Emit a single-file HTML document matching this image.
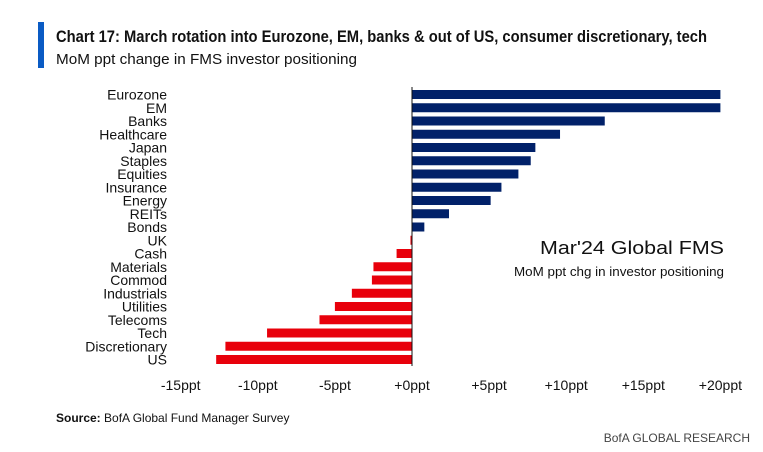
<!DOCTYPE html>
<html><head><meta charset="utf-8"><style>
html,body{margin:0;padding:0;background:#fff;}
svg{display:block;font-family:"Liberation Sans",sans-serif;}
</style></head><body>
<svg id="chart" width="763" height="452" viewBox="0 0 763 452">
<rect x="38" y="22" width="6" height="46" fill="#0a5bc4"/>
<text x="56" y="42" font-size="17" font-weight="bold" fill="#111" textLength="651" lengthAdjust="spacingAndGlyphs">Chart 17: March rotation into Eurozone, EM, banks &amp; out of US, consumer discretionary, tech</text>
<text x="56" y="64" font-size="15" fill="#111" textLength="301" lengthAdjust="spacingAndGlyphs">MoM ppt change in FMS investor positioning</text>
<g id="plot"></g>
<text x="724" y="254" font-size="18" fill="#111" text-anchor="end" textLength="184" lengthAdjust="spacingAndGlyphs">Mar'24 Global FMS</text>
<text x="724" y="276" font-size="13" fill="#111" text-anchor="end" textLength="210" lengthAdjust="spacingAndGlyphs">MoM ppt chg in investor positioning</text>
<text x="56" y="422" font-size="12" fill="#111"><tspan font-weight="bold">Source:</tspan> BofA Global Fund Manager Survey</text>
<text x="750" y="442" font-size="12" fill="#444" text-anchor="end">BofA GLOBAL RESEARCH</text>
</svg>
<script>
const categories=["Eurozone","EM","Banks","Healthcare","Japan","Staples","Equities","Insurance","Energy","REITs","Bonds","UK","Cash","Materials","Commod","Industrials","Utilities","Telecoms","Tech","Discretionary","US"];
const values=[20,20,12.5,9.6,8,7.7,6.9,5.8,5.1,2.4,0.8,-0.1,-1,-2.5,-2.6,-3.9,-5,-6,-9.4,-12.1,-12.7];
const ticks=[-15,-10,-5,0,5,10,15,20];
const tickLabels=["-15ppt","-10ppt","-5ppt","+0ppt","+5ppt","+10ppt","+15ppt","+20ppt"];
const NS="http://www.w3.org/2000/svg";
const g=document.getElementById('plot');
const x=v=>412+v*15.42;
const y=i=>94.5+i*13.25;
function mk(t,a){const e=document.createElementNS(NS,t);for(const k in a)e.setAttribute(k,a[k]);g.appendChild(e);return e;}
categories.forEach((c,i)=>{
  const v=values[i];
  const b=mk('rect',{x:Math.min(x(0),x(v)),y:y(i)-4.5,width:Math.max(1,Math.abs(x(v)-x(0))),height:9,fill:v>=0?'#012169':'#e8000b'});
  
  
  const t=mk('text',{x:167,y:y(i)+5,'font-size':14,'text-anchor':'end',fill:'#111'});
  t.textContent=c;
  
  
});
const ax=mk('line',{x1:x(0),x2:x(0),y1:87,y2:366,stroke:'#111','stroke-width':1});


ticks.forEach((v,i)=>{
  const t=mk('text',{x:x(v),y:390,'font-size':14,'text-anchor':'middle',fill:'#111'});
  t.textContent=tickLabels[i];
  
  
});
</script>
</body></html>
